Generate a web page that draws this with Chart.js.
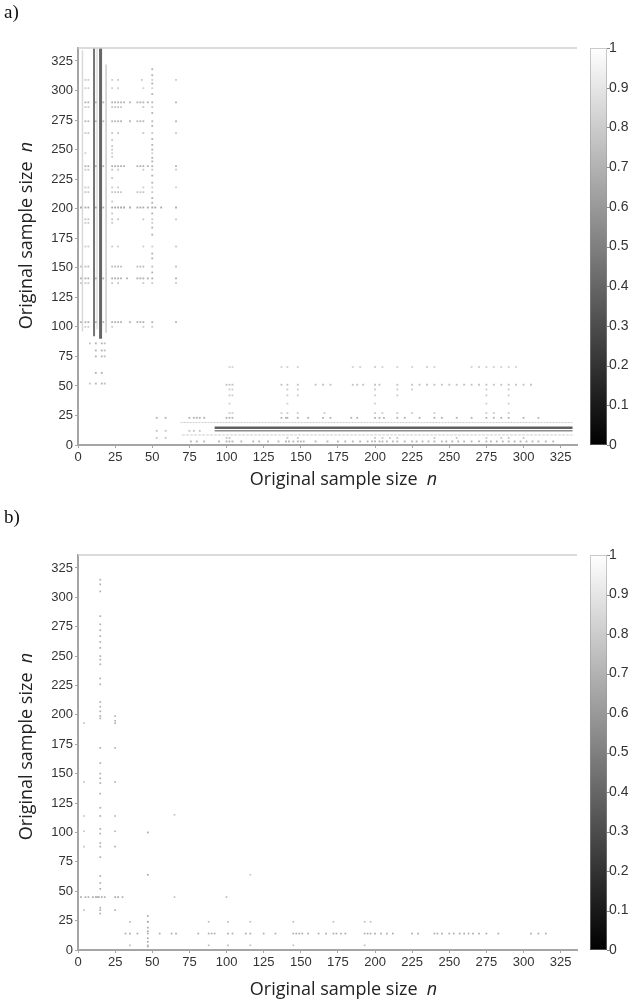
<!DOCTYPE html>
<html>
<head>
<meta charset="utf-8">
<script src="https://cdn.jsdelivr.net/npm/chart.js@4.4.0/dist/chart.umd.min.js"></script>
<style>
  body { margin: 0; background: #fff; width: 629px; height: 1004px; position: relative; overflow: hidden; }
  .panel { position: absolute; left: 0; width: 629px; }
  .tag { position: absolute; left: 4px; font-family: "Liberation Serif", "DejaVu Serif", serif; font-size: 19px; color: #111; }
</style>
</head>
<body>
<div class="panel" style="top:0;height:500px"><canvas id="chartA" width="629" height="500"></canvas></div>
<div class="panel" style="top:506px;height:498px"><canvas id="chartB" width="629" height="498"></canvas></div>
<div class="tag" style="top:1px">a)</div>
<div class="tag" style="top:506px">b)</div>
<script>
// ---- panel a ----
// vertical streaks near n = 3..19 (x, from, to, grey level)
const aStreakX  = [3, 10.8, 12.8, 15.2, 18.9];
const aStreakY0 = [96, 92, 98, 90, 95];
const aStreakY1 = [334, 336, 336, 336, 322];
const aStreakV  = [0.85, 0.45, 0.82, 0.4, 0.8];

// horizontal bands near n = 8..19
const aBandY  = [19, 14.5, 12, 8.5];
const aBandX0 = [69, 92, 92, 70];
const aBandX1 = [333, 333, 333, 333];
const aBandV  = [0.8, 0.38, 0.55, 0.82];

// dotted rows in the upper left block
const aRowY = [309, 302, 290, 286, 274, 264, 247, 236, 233, 218, 214, 201, 191, 188, 168, 151, 141, 137, 104, 100];
const aRowX = [
  [5, 7, 23, 27, 43, 50, 66],
  [5, 7, 23, 27, 44, 50],
  [5, 7, 12, 17, 23, 25, 27, 29, 31, 35, 40, 42, 44, 47, 50, 66],
  [5, 7, 23, 25, 27, 29, 44, 50],
  [5, 7, 12, 17, 23, 25, 27, 29, 35, 40, 42, 44, 50, 66],
  [5, 7, 23, 27, 44, 50, 66],
  [5, 23, 50],
  [5, 7, 12, 17, 23, 25, 27, 29, 31, 40, 42, 44, 47, 50, 66],
  [5, 7, 23, 27, 44, 50, 66],
  [5, 7, 23, 27, 44, 50, 66],
  [5, 7, 23, 25, 27, 29, 40, 42, 44, 50],
  [2, 5, 7, 12, 17, 23, 25, 27, 29, 31, 35, 40, 42, 44, 47, 50, 52, 56, 66],
  [5, 7, 23, 27, 44, 50, 66],
  [5, 7, 23, 50],
  [5, 7, 23, 27, 44, 50, 66],
  [2, 5, 7, 23, 25, 27, 29, 40, 42, 44, 50, 66],
  [2, 5, 7, 12, 17, 23, 25, 27, 29, 33, 40, 42, 44, 47, 50, 66],
  [2, 5, 7, 23, 27, 44, 50, 66],
  [2, 5, 7, 12, 17, 23, 25, 27, 29, 35, 40, 42, 44, 50, 66],
  [5, 7, 23, 44, 50]
];
const aRowV = [0.8, 0.82, 0.7, 0.78, 0.72, 0.78, 0.82, 0.7, 0.78, 0.8, 0.78, 0.66, 0.78, 0.8, 0.8, 0.74, 0.68, 0.78, 0.7, 0.8];

// dotted columns
const aColX = [50, 23, 8, 12, 16, 18];
const aColY = [
  [318, 313, 306, 297, 281, 270, 259, 254, 250, 243, 240, 228, 222, 209, 205, 196, 184, 178, 162, 158, 146],
  [258, 253, 250, 244, 226, 206, 196],
  [86, 52],
  [86, 80, 75, 61, 52],
  [86, 80, 75, 61, 52],
  [86, 80, 75, 52]
];
const aColV = [0.7, 0.78, 0.78, 0.7, 0.7, 0.74];

// dotted rows along the bottom
const aLowY = [66, 51, 47, 42, 35, 27, 23, 12, 6, 3];
const aLowX = [
  [102, 104, 137, 141, 148, 185, 190, 200, 205, 215, 225, 235, 240, 265, 270, 275, 280, 285, 290, 295],
  [100, 102, 104, 137, 141, 148, 160, 165, 170, 185, 188, 192, 200, 203, 215, 225, 230, 235, 240, 245, 250, 255, 260, 265, 270, 275, 280, 285, 290, 295, 300, 305],
  [102, 104, 141, 148, 200, 215, 225, 275, 290],
  [102, 104, 141, 148, 200, 215, 275, 290],
  [102, 141, 200, 275, 290],
  [102, 104, 137, 141, 148, 166, 200, 205, 215, 225, 240, 275, 280, 290],
  [53, 59, 75, 78, 80, 82, 85, 100, 102, 104, 137, 140, 141, 148, 155, 165, 170, 184, 188, 200, 203, 206, 215, 220, 230, 240, 245, 255, 265, 275, 280, 285, 290, 300, 310],
  [53, 59, 75, 78, 82],
  [53, 59, 100, 102, 141, 148, 200, 205, 210, 215, 240, 255, 275, 285, 290, 300],
  [76, 80, 85, 95, 100, 102, 104, 110, 118, 122, 128, 135, 140, 142, 145, 148, 150, 152, 160, 168, 175, 180, 185, 190, 195, 198, 200, 203, 205, 208, 212, 215, 220, 225, 228, 232, 236, 240, 245, 248, 252, 256, 260, 265, 270, 275, 278, 282, 286, 290, 294, 298, 302, 306, 310, 315, 320]
];
const aLowV = [0.82, 0.76, 0.8, 0.8, 0.82, 0.8, 0.7, 0.76, 0.78, 0.7];

// ---- panel b ----
const bColX = [15, 25, 4, 47, 65, 100, 116];
const bColY = [
  [315, 311, 305, 284, 277, 272, 267, 262, 257, 250, 247, 243, 231, 226, 211, 207, 203, 199, 197, 172, 159, 150, 146, 142, 133, 121, 114, 103, 99, 91, 88, 79, 63, 57, 52, 36, 34, 31],
  [199, 195, 193, 172, 143, 114, 101, 88, 34],
  [193, 143, 114, 101, 88, 34],
  [100, 64, 29, 24, 19, 16, 10, 7, 3],
  [115, 45],
  [45],
  [64]
];
const bColV = [0.68, 0.7, 0.76, 0.66, 0.76, 0.74, 0.78];

const bRowY = [45, 24, 14, 4];
const bRowX = [
  [2, 5, 7, 10, 12, 13, 14, 16, 18, 25, 27, 30],
  [35, 47, 88, 101, 116, 145, 172, 193, 197],
  [32, 35, 40, 47, 55, 63, 66, 81, 88, 90, 92, 101, 104, 113, 116, 125, 133, 145, 147, 149, 151, 155, 162, 167, 172, 174, 177, 180, 193, 195, 197, 200, 204, 208, 212, 225, 229, 240, 242, 245, 250, 253, 257, 260, 263, 266, 270, 275, 283, 305, 310, 315],
  [35, 47, 88, 101, 116, 145, 193]
];
const bRowV = [0.68, 0.74, 0.68, 0.74];

// axis range / ticks
const axisMax = 336;
const axisStep = 25;
const barStep = 0.1;

// styles (kept apart from data)
const streakWidths = [1.5, 2, 1, 3, 1.5];
const bandWidths = [1, 2.5, 1.5, 1];
const bandDashes = [[2, 1], [], [], [3, 1]];

function grey(v) {
  const g = Math.round(v * 255);
  return `rgb(${g},${g},${g})`;
}

function lineSets(xs0, xs1, ys0, ys1, vs, widths, dashes) {
  return vs.map((v, i) => ({
    data: [{x: xs0[i], y: ys0[i]}, {x: xs1[i], y: ys1[i]}],
    showLine: true,
    borderColor: grey(v),
    borderWidth: widths[i],
    borderDash: dashes ? dashes[i] : [],
    pointRadius: 0
  }));
}

function dotSets(points, vs, radius) {
  return points.map((pts, i) => ({
    data: pts,
    backgroundColor: grey(vs[i]),
    pointStyle: 'rect',
    pointRadius: radius,
    pointBorderWidth: 0
  }));
}

function rows(ys, xLists) {
  return ys.map((y, i) => xLists[i].map((x) => ({x: x, y: y})));
}

function cols(xs, yLists) {
  return xs.map((x, i) => yLists[i].map((y) => ({x: x, y: y})));
}

function drawTitle(ctx, cx, cy, angle) {
  const main = 'Original sample size  ';
  const font = '18px "Open Sans", sans-serif';
  const ifont = 'italic 18px "Open Sans", sans-serif';
  ctx.save();
  ctx.translate(cx, cy);
  ctx.rotate(angle);
  ctx.font = font;
  const w1 = ctx.measureText(main).width;
  ctx.font = ifont;
  const w2 = ctx.measureText('n').width;
  const start = -(w1 + w2) / 2;
  ctx.fillStyle = '#222';
  ctx.textBaseline = 'middle';
  ctx.textAlign = 'left';
  ctx.font = font;
  ctx.fillText(main, start, 0);
  ctx.font = ifont;
  ctx.fillText('n', start + w1, 0);
  ctx.restore();
}

// top frame line, colour bar and axis titles
const frame = {
  id: 'frame',
  afterDraw(chart, args, opts) {
    const ctx = chart.ctx;
    const a = chart.chartArea;
    const cb = chart.scales.cb;
    ctx.save();
    ctx.strokeStyle = '#cfcfcf';
    ctx.lineWidth = 1.5;
    ctx.beginPath();
    ctx.moveTo(a.left, a.top);
    ctx.lineTo(a.right, a.top);
    ctx.stroke();

    const x0 = a.right + 13;
    const w = 17;
    const yTop = cb.getPixelForValue(1);
    const yBot = cb.getPixelForValue(0);
    const g = ctx.createLinearGradient(0, yBot, 0, yTop);
    g.addColorStop(0, '#000');
    g.addColorStop(1, '#fff');
    ctx.fillStyle = g;
    ctx.fillRect(x0, yTop, w, yBot - yTop);
    ctx.strokeStyle = 'rgba(150,150,150,0.5)';
    ctx.lineWidth = 1;
    ctx.strokeRect(x0 + 0.5, yTop + 0.5, w - 1, yBot - yTop - 1);
    ctx.strokeStyle = '#888';
    cb.ticks.forEach((t) => {
      const y = Math.round(cb.getPixelForValue(t.value)) + 0.5;
      ctx.beginPath();
      ctx.moveTo(x0 + w, y);
      ctx.lineTo(x0 + w + 3, y);
      ctx.stroke();
    });
    ctx.restore();

    drawTitle(ctx, (a.left + a.right) / 2 + 16, opts.xTitleY, 0);
    drawTitle(ctx, 27, (a.top + a.bottom) / 2 + opts.yTitleShift, -Math.PI / 2);
  }
};

const tickFont = {family: '"Liberation Sans", Arial, sans-serif', size: 13};

function axis(position, size) {
  return {
    type: 'linear',
    position: position,
    min: 0,
    max: axisMax,
    border: {display: true, color: '#a5a5a5', width: 2},
    grid: {drawOnChartArea: false, drawTicks: true, tickLength: 3, color: '#a5a5a5'},
    ticks: {stepSize: axisStep, includeBounds: false, autoSkip: false, maxRotation: 0, padding: 2, color: '#333', font: tickFont},
    afterFit: (s) => {
      if (position === 'left') {
        s.width = size;
      } else {
        s.height = size;
      }
    }
  };
}

function makeChart(id, datasets, topPad, xAxisH, xTitleY, yTitleShift) {
  return new Chart(document.getElementById(id), {
    type: 'scatter',
    data: {datasets: datasets},
    options: {
      responsive: false,
      animation: false,
      layout: {padding: {top: topPad, left: 0, right: 0, bottom: 0}},
      plugins: {
        legend: {display: false},
        tooltip: {enabled: false},
        frame: {xTitleY: xTitleY, yTitleShift: yTitleShift}
      },
      scales: {
        x: axis('bottom', xAxisH),
        y: axis('left', 78),
        cb: {
          type: 'linear',
          position: 'right',
          min: 0,
          max: 1,
          grid: {display: false, drawTicks: false},
          border: {display: false},
          ticks: {
            stepSize: barStep,
            padding: 32,
            color: '#333',
            font: {family: tickFont.family, size: 14},
            callback: (v) => String(Math.round(v * 10) / 10)
          },
          afterFit: (s) => { s.width = 52; }
        }
      }
    },
    plugins: [frame]
  });
}

const setsA = [
  ...dotSets(rows(aRowY, aRowX), aRowV, 1.3),
  ...dotSets(cols(aColX, aColY), aColV, 1.3),
  ...dotSets(rows(aLowY, aLowX), aLowV, 1.3),
  ...lineSets(aStreakX, aStreakX, aStreakY0, aStreakY1, aStreakV, streakWidths),
  ...lineSets(aBandX0, aBandX1, aBandY, aBandY, aBandV, bandWidths, bandDashes)
];

const setsB = [
  ...dotSets(cols(bColX, bColY), bColV, 1.2),
  ...dotSets(rows(bRowY, bRowX), bRowV, 1.2)
];

makeChart('chartA', setsA, 48, 55, 480, -11);
makeChart('chartB', setsB, 49, 54, 484, -6);
</script>
</body>
</html>
